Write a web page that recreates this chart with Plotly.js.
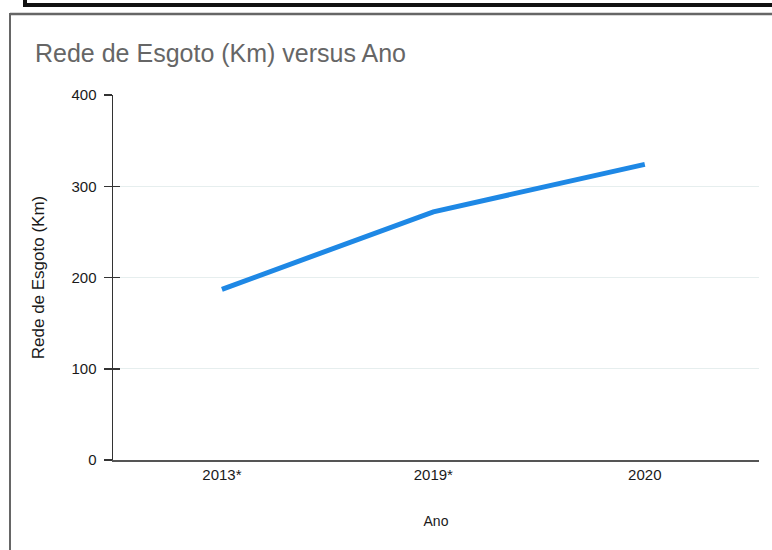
<!DOCTYPE html>
<html>
<head>
<meta charset="utf-8">
<script src="https://cdn.plot.ly/plotly-3.0.1.min.js"></script>
<style>
  html, body { margin: 0; padding: 0; background: #ffffff; }
  #chart { width: 772px; height: 550px; }
</style>
</head>
<body>
<div id="chart"></div>
<script>
var anos = ['2013*', '2019*', '2020'];
var redeEsgotoKm = [187, 272, 324];
var yTicks = [0, 100, 200, 300, 400];

// plot area in pixels (for frame shapes)
var L = 113, R = 759, T = 95, B = 460;
function px(p) { return (p - L) / (R - L); }
function py(p) { return (B - p) / (B - T); }

var FONT = 'Liberation Sans, Arial, sans-serif';

var trace = {
  x: anos,
  y: redeEsgotoKm,
  type: 'scatter',
  mode: 'lines',
  line: { color: '#1e88e5', width: 5 },
  hoverinfo: 'x+y'
};

// helper trace so the overlaid axis (inner half of the crossing ticks) is drawn
var helper = {
  x: anos,
  y: redeEsgotoKm,
  yaxis: 'y2',
  type: 'scatter',
  mode: 'lines',
  line: { color: 'rgba(0,0,0,0)', width: 0 },
  hoverinfo: 'skip'
};

var layout = {
  width: 772,
  height: 550,
  margin: { l: L, r: 772 - R, t: T, b: 550 - B },
  paper_bgcolor: '#ffffff',
  plot_bgcolor: '#ffffff',
  showlegend: false,
  font: { family: FONT, color: '#222' },
  title: {
    text: 'Rede de Esgoto (Km) versus Ano',
    x: 35 / 772, xanchor: 'left',
    y: 1 - 53 / 550, yanchor: 'middle',
    font: { size: 25, color: '#666', family: FONT }
  },
  xaxis: {
    type: 'category',
    range: [-0.515, 2.54],
    showgrid: false,
    zeroline: false,
    showline: true,
    linecolor: '#555',
    linewidth: 2,
    ticks: '',
    tickfont: { size: 15, color: '#1a1a1a' },
    title: { text: 'Ano', font: { size: 14, color: '#1a1a1a' }, standoff: 34 }
  },
  yaxis: {
    range: [0, 400],
    tickvals: yTicks,
    showgrid: true,
    gridcolor: '#e6eeee',
    gridwidth: 1,
    zeroline: false,
    showline: true,
    linecolor: '#333',
    linewidth: 1.5,
    ticks: 'outside',
    ticklen: 8,
    tickcolor: '#333',
    tickwidth: 1.5,
    ticklabelstandoff: 4,
    tickfont: { size: 15, color: '#1a1a1a' },
    title: { text: 'Rede de Esgoto (Km)', font: { size: 17, color: '#1a1a1a' }, standoff: 22 }
  },
  yaxis2: {
    overlaying: 'y',
    side: 'left',
    range: [0, 400],
    tickvals: yTicks,
    showgrid: false,
    zeroline: false,
    showline: false,
    showticklabels: false,
    ticks: 'inside',
    ticklen: 7,
    tickcolor: '#333',
    tickwidth: 1.5
  },
  shapes: [
    // outer gray frame of chart card
    { type: 'line', xref: 'paper', yref: 'paper', x0: px(10), x1: px(10), y0: py(13), y1: py(560),
      line: { color: '#666', width: 2 } },
    { type: 'line', xref: 'paper', yref: 'paper', x0: px(10), x1: px(790), y0: py(14), y1: py(14),
      line: { color: '#666', width: 2.5 } },
    // black box above
    { type: 'rect', xref: 'paper', yref: 'paper', x0: px(25), x1: px(800), y0: py(-60), y1: py(5),
      line: { color: '#111', width: 4 }, fillcolor: 'rgba(0,0,0,0)' }
  ]
};

Plotly.newPlot('chart', [trace, helper], layout, { displayModeBar: false, staticPlot: true });
</script>
</body>
</html>
